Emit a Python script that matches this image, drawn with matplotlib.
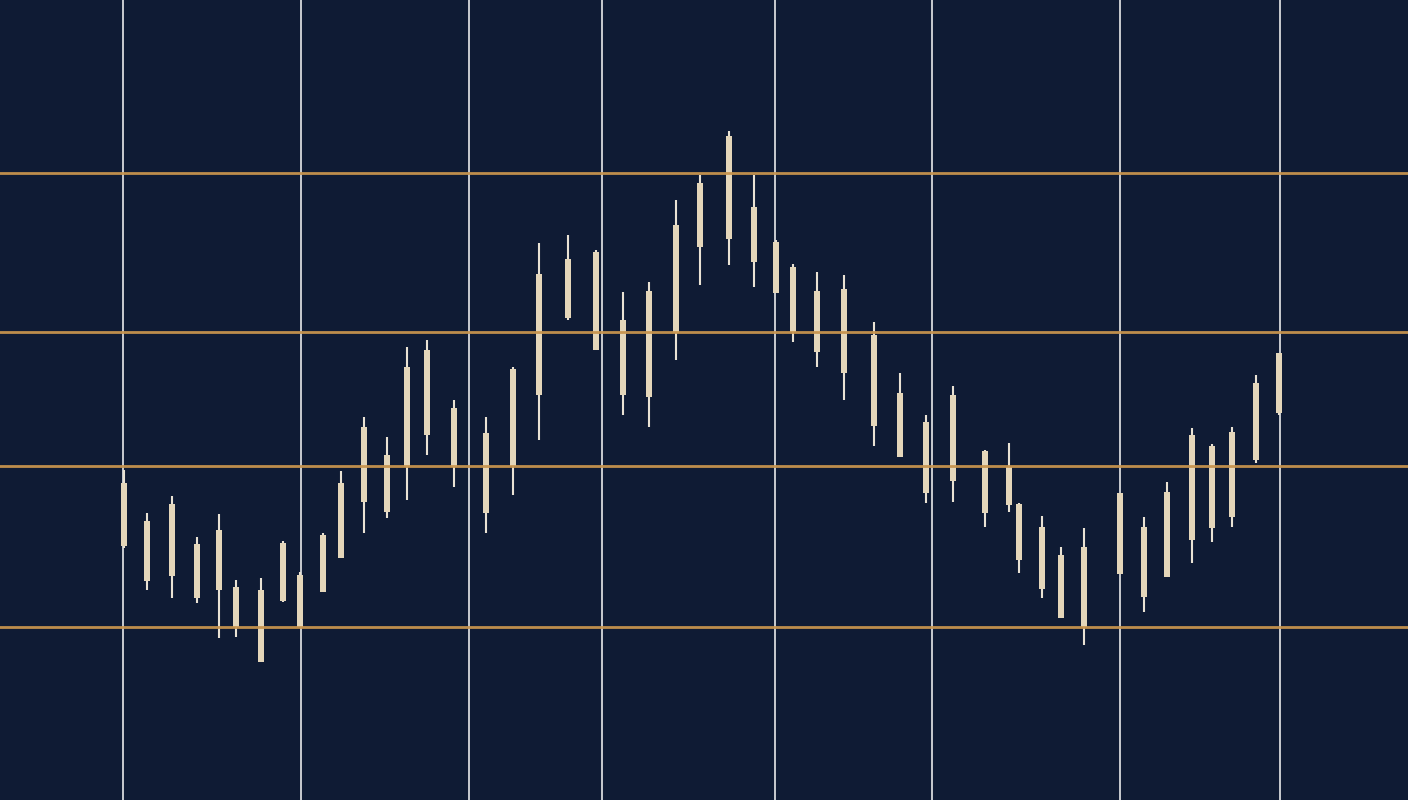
import numpy as np
import matplotlib.pyplot as plt

# candle times (irregular spacing as in the picture)
t = [124, 147, 172, 197, 219, 236, 261, 283, 300, 323, 341, 364, 387, 407, 427,
     454, 486, 513, 539, 568, 596, 623, 649, 676, 700, 729, 754, 776, 793, 817,
     844, 874, 900, 926, 953, 985, 1009, 1019, 1042, 1061, 1084, 1120, 1144,
     1167, 1192, 1212, 1232, 1256, 1279]

highs = [133.0, 128.7, 130.4, 126.3, 128.6, 122.0, 122.2, 125.9, 122.8, 126.7,
         132.9, 138.3, 136.3, 145.3, 146.0, 140.0, 138.3, 143.3, 155.7, 156.5,
         155.0, 150.8, 151.8, 160.0, 162.5, 166.9, 162.5, 156.0, 153.6, 152.8,
         152.5, 147.8, 142.7, 138.5, 141.4, 135.0, 135.7, 129.7, 128.4, 125.3,
         127.2, 130.7, 128.3, 131.8, 137.2, 135.6, 137.3, 142.5, 144.7]
closes = [131.7, 127.9, 129.6, 125.6, 127.0, 121.3, 121.0, 125.7, 122.5, 126.5,
          131.7, 137.3, 134.5, 143.3, 145.0, 139.2, 136.7, 143.1, 152.6, 154.1,
          154.8, 148.0, 150.9, 157.5, 161.7, 166.4, 159.3, 155.8, 153.3, 150.9,
          151.1, 146.5, 140.7, 137.8, 140.5, 134.9, 133.3, 129.6, 127.3, 124.5,
          125.3, 130.7, 127.3, 130.8, 136.5, 135.4, 136.8, 141.7, 144.7]
opens = [125.4, 121.9, 122.4, 120.2, 121.0, 117.3, 113.8, 119.9, 117.3, 120.8,
         124.2, 129.8, 128.8, 133.3, 136.5, 133.3, 128.7, 133.4, 140.5, 148.2,
         145.0, 140.5, 140.3, 146.7, 155.3, 156.1, 153.8, 150.7, 146.8, 144.8,
         142.7, 137.4, 134.3, 130.7, 131.9, 128.7, 129.5, 124.0, 121.1, 118.2,
         117.3, 122.6, 120.3, 122.3, 126.0, 127.2, 128.3, 134.0, 138.7]
lows = [125.2, 121.0, 120.2, 119.7, 116.2, 116.3, 113.8, 119.8, 117.3, 120.8,
        124.2, 126.7, 128.2, 130.0, 134.5, 131.3, 126.7, 130.5, 136.0, 148.0,
        145.0, 138.5, 137.3, 144.0, 151.5, 153.5, 151.3, 150.7, 145.8, 143.3,
        140.0, 135.4, 134.3, 129.7, 129.8, 127.3, 128.8, 122.7, 120.2, 118.2,
        115.5, 122.6, 118.8, 122.3, 123.7, 125.8, 127.3, 133.7, 138.5]

# support / resistance levels and time markers
levels = [162.7, 146.8, 133.4, 117.3]
markers = [123, 301, 469, 602, 775, 932, 1120, 1280]

bg = '#0f1b34'
body_col = '#e4d6ba'
wick_col = '#e9e2d4'

fig = plt.figure(figsize=(14.08, 8), dpi=100, facecolor=bg)
ax = fig.add_axes([0, 0, 1, 1])
ax.set_facecolor(bg)

for m in markers:
    ax.axvline(m, color='#c9cbd0', lw=1.4, zorder=1)

o = np.array(opens)
c = np.array(closes)
bottom = np.minimum(o, c)
height = np.abs(c - o)

ax.vlines(t, lows, highs, color=wick_col, lw=1.5, zorder=2)
ax.bar(t, height, bottom=bottom, width=6.5, color=body_col, edgecolor='none', zorder=3)

for lv in levels:
    ax.axhline(lv, color='#c8944e', lw=2.0, zorder=4, alpha=0.95)

ax.set_xlim(0, 1408)
ax.set_ylim(100, 180)
ax.axis('off')

fig.savefig('out.png', dpi=100, facecolor=bg)
